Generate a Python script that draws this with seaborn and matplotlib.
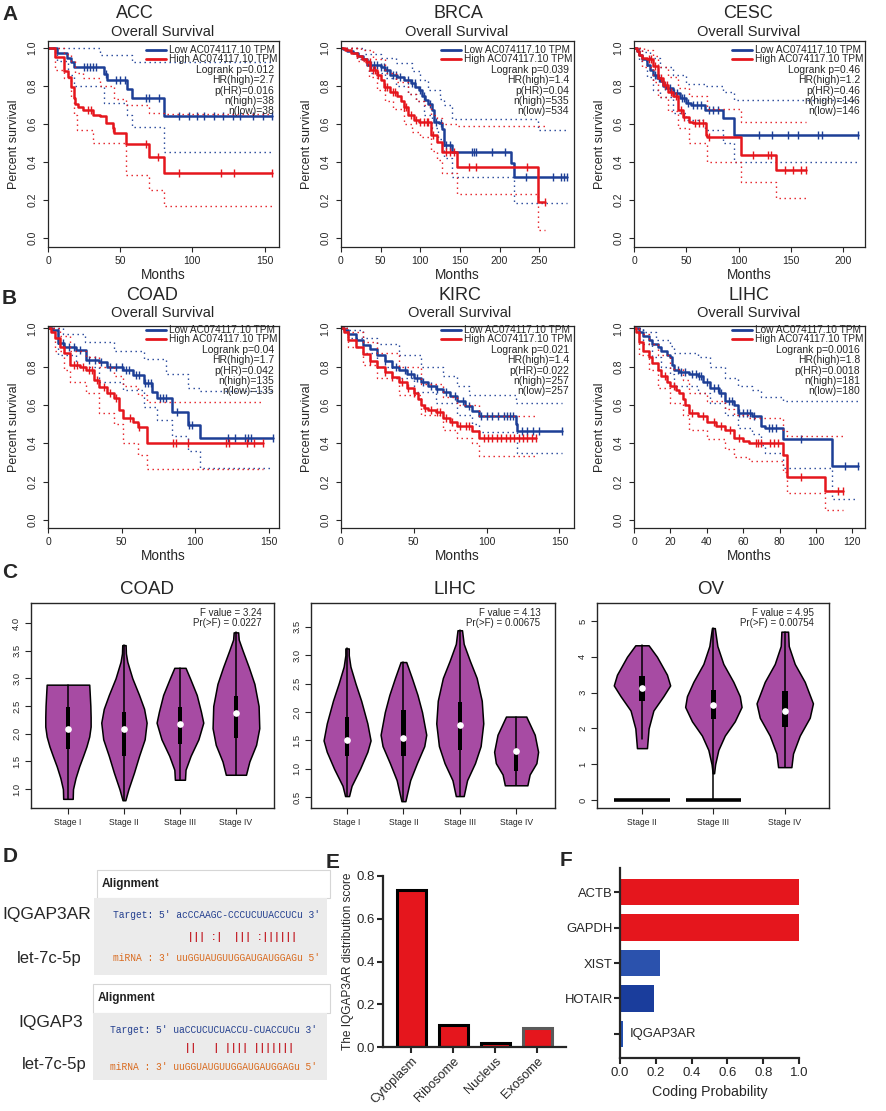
import numpy as np
import matplotlib
matplotlib.use('Agg')
import matplotlib.pyplot as plt
from matplotlib.patches import Rectangle
import seaborn as sns

sns.set_style('ticks')
plt.rcParams['font.family'] = ['Liberation Sans', 'DejaVu Sans']
plt.rcParams['axes.linewidth'] = 0.9

W, H = 886, 1111
BLUE = '#1d3f96'
RED = '#e5161d'
VIOLIN = '#a74ba3'

# ====================== DATA ======================
LEGEND_LABELS = ['Low AC074117.10 TPM', 'High AC074117.10 TPM']

# ---- ACC ----
ACC_LOW_STEPS = [(6, 0.975), (13, 0.95), (16, 0.925), (18, 0.898), (39, 0.865), (41, 0.833), (55, 0.785), (58, 0.736), (80, 0.643)]
ACC_LOW_END = 155
ACC_LOW_CENS = [25, 27, 29, 31, 33, 40, 47, 50, 53, 68, 70, 77, 91, 98, 103, 108, 115, 121, 128, 133, 142, 149, 155]
ACC_LOW_UP = [(0, 1.0), (36, 0.965), (58, 0.925)]
ACC_LOW_LO = [(0, 1.0), (6, 0.93), (14, 0.86), (18, 0.80), (39, 0.71), (55, 0.645), (58, 0.587), (80, 0.455)]
ACC_HIGH_STEPS = [(5, 0.953), (11, 0.877), (14, 0.847), (16, 0.794), (18, 0.736), (19, 0.704), (21, 0.69), (24, 0.674), (31, 0.648), (36, 0.64), (40, 0.604), (45, 0.577), (46, 0.555), (54, 0.493), (70, 0.428), (80, 0.34)]
ACC_HIGH_END = 155
ACC_HIGH_CENS = [28, 30, 45, 68, 76, 91, 120, 129, 155]
ACC_HIGH_UP = [(0, 1.0), (11, 0.97), (16, 0.93), (19, 0.87), (24, 0.84), (36, 0.80), (46, 0.73), (54, 0.70), (70, 0.66), (80, 0.655)]
ACC_HIGH_LO = [(0, 1.0), (5, 0.885), (11, 0.84), (16, 0.74), (18, 0.65), (20, 0.57), (31, 0.50), (54, 0.33), (70, 0.255), (80, 0.17)]
ACC_STATS = ['Logrank p=0.012', 'HR(high)=2.7', 'p(HR)=0.016', 'n(high)=38', 'n(low)=38']

# ---- BRCA ----
BRCA_LOW_STEPS = [(3, 0.995), (8, 0.985), (15, 0.975), (22, 0.96), (28, 0.94), (33, 0.912), (50, 0.90), (56, 0.885), (62, 0.86), (71, 0.85), (79, 0.833), (88, 0.815), (94, 0.795), (98, 0.78), (102, 0.745), (106, 0.725), (110, 0.705), (115, 0.674), (117, 0.613), (124, 0.604), (127, 0.575), (130, 0.489), (140, 0.454), (215, 0.393), (218, 0.322)]
BRCA_LOW_END = 285
BRCA_LOW_CENS = [38, 42, 46, 50, 54, 58, 66, 70, 75, 84, 90, 93, 100, 105, 112, 120, 126, 133, 137, 165, 168, 170, 190, 207, 233, 268, 278, 282, 285]
BRCA_LOW_UP = [(0, 1.0), (30, 0.97), (50, 0.95), (70, 0.92), (90, 0.88), (100, 0.83), (110, 0.78), (125, 0.73), (130, 0.70), (140, 0.625), (248, 0.57)]
BRCA_LOW_LO = [(0, 1.0), (20, 0.94), (35, 0.87), (55, 0.84), (70, 0.80), (85, 0.76), (95, 0.72), (105, 0.65), (115, 0.58), (122, 0.52), (130, 0.42), (140, 0.32), (218, 0.185)]
BRCA_HIGH_STEPS = [(5, 0.99), (12, 0.975), (20, 0.956), (27, 0.94), (31, 0.925), (37, 0.886), (45, 0.86), (50, 0.83), (54, 0.797), (62, 0.771), (71, 0.745), (76, 0.72), (79, 0.692), (85, 0.648), (92, 0.62), (98, 0.613), (113, 0.542), (121, 0.507), (128, 0.454), (146, 0.375), (248, 0.19)]
BRCA_HIGH_END = 258
BRCA_HIGH_CENS = [33, 36, 40, 43, 47, 55, 58, 65, 68, 80, 82, 88, 95, 100, 105, 108, 110, 116, 133, 137, 142, 162, 170, 235, 258]
BRCA_HIGH_UP = [(0, 1.0), (25, 0.99), (40, 0.94), (55, 0.87), (70, 0.82), (85, 0.76), (95, 0.72), (105, 0.70), (113, 0.65), (121, 0.63), (128, 0.60), (146, 0.59)]
BRCA_HIGH_LO = [(0, 1.0), (20, 0.93), (35, 0.85), (45, 0.78), (55, 0.72), (65, 0.68), (80, 0.60), (90, 0.56), (100, 0.53), (113, 0.46), (121, 0.41), (128, 0.34), (146, 0.234), (248, 0.045)]
BRCA_STATS = ['Logrank p=0.039', 'HR(high)=1.4', 'p(HR)=0.04', 'n(high)=535', 'n(low)=534']

# ---- CESC ----
CESC_LOW_STEPS = [(3, 0.985), (5, 0.965), (8, 0.94), (12, 0.912), (15, 0.885), (18, 0.86), (22, 0.84), (25, 0.824), (28, 0.80), (31, 0.789), (37, 0.762), (44, 0.736), (50, 0.71), (55, 0.70), (68, 0.674), (85, 0.63), (96, 0.542)]
CESC_LOW_END = 214
CESC_LOW_CENS = [20, 24, 30, 34, 38, 41, 46, 48, 52, 56, 60, 64, 72, 76, 80, 120, 132, 147, 157, 176, 180, 214]
CESC_LOW_UP = [(0, 1.0), (8, 0.98), (15, 0.95), (25, 0.90), (37, 0.86), (50, 0.81), (68, 0.80), (85, 0.77), (96, 0.725)]
CESC_LOW_LO = [(0, 1.0), (5, 0.93), (12, 0.85), (18, 0.78), (25, 0.74), (37, 0.66), (50, 0.62), (68, 0.57), (85, 0.50), (96, 0.40)]
CESC_HIGH_STEPS = [(3, 0.985), (5, 0.965), (8, 0.95), (12, 0.94), (18, 0.903), (23, 0.84), (28, 0.806), (33, 0.771), (37, 0.745), (42, 0.674), (47, 0.639), (53, 0.613), (56, 0.604), (69, 0.542), (70, 0.533), (102, 0.437), (136, 0.357)]
CESC_HIGH_END = 165
CESC_HIGH_CENS = [14, 16, 20, 26, 30, 32, 35, 40, 45, 48, 58, 62, 66, 72, 114, 128, 131, 144, 152, 160, 165]
CESC_HIGH_UP = [(0, 1.0), (10, 0.99), (18, 0.96), (23, 0.90), (33, 0.85), (42, 0.79), (53, 0.75), (70, 0.68), (102, 0.61)]
CESC_HIGH_LO = [(0, 1.0), (8, 0.90), (18, 0.82), (23, 0.74), (33, 0.67), (42, 0.58), (53, 0.50), (70, 0.40), (102, 0.295), (136, 0.21)]
CESC_STATS = ['Logrank p=0.46', 'HR(high)=1.2', 'p(HR)=0.46', 'n(high)=146', 'n(low)=146']

# ---- COAD ----
COAD_LOW_STEPS = [(3, 0.99), (7, 0.922), (11, 0.904), (19, 0.887), (26, 0.835), (35, 0.826), (40, 0.80), (51, 0.783), (58, 0.757), (65, 0.713), (71, 0.67), (74, 0.635), (84, 0.565), (95, 0.496), (103, 0.426)]
COAD_LOW_END = 153
COAD_LOW_CENS = [10, 14, 18, 22, 28, 32, 36, 42, 46, 50, 53, 55, 60, 62, 66, 68, 70, 76, 78, 80, 88, 96, 98, 122, 127, 134, 136, 138, 153]
COAD_LOW_UP = [(0, 1.0), (10, 0.97), (25, 0.93), (45, 0.88), (65, 0.84), (80, 0.76), (95, 0.69), (103, 0.675)]
COAD_LOW_LO = [(0, 1.0), (7, 0.86), (19, 0.80), (35, 0.72), (51, 0.68), (65, 0.59), (74, 0.52), (84, 0.44), (95, 0.36), (103, 0.27)]
COAD_HIGH_STEPS = [(2, 0.98), (5, 0.95), (8, 0.904), (11, 0.87), (15, 0.809), (22, 0.80), (26, 0.783), (31, 0.73), (35, 0.696), (40, 0.66), (45, 0.635), (48, 0.574), (51, 0.53), (58, 0.513), (61, 0.487), (67, 0.40)]
COAD_HIGH_END = 146
COAD_HIGH_CENS = [18, 20, 24, 28, 30, 33, 38, 42, 46, 56, 62, 85, 87, 95, 121, 123, 135, 140, 146]
COAD_HIGH_UP = [(0, 1.0), (8, 0.96), (15, 0.88), (26, 0.85), (35, 0.80), (45, 0.75), (51, 0.70), (61, 0.65), (67, 0.615)]
COAD_HIGH_LO = [(0, 1.0), (5, 0.88), (11, 0.78), (15, 0.72), (26, 0.66), (35, 0.56), (45, 0.50), (51, 0.40), (61, 0.34), (67, 0.265)]
COAD_STATS = ['Logrank p=0.04', 'HR(high)=1.7', 'p(HR)=0.042', 'n(high)=135', 'n(low)=135']

# ---- KIRC ----
KIRC_LOW_STEPS = [(2, 0.99), (5, 0.97), (10, 0.94), (15, 0.915), (20, 0.89), (25, 0.86), (30, 0.83), (35, 0.80), (40, 0.78), (45, 0.76), (50, 0.74), (55, 0.72), (60, 0.70), (65, 0.685), (70, 0.67), (75, 0.645), (80, 0.62), (85, 0.595), (90, 0.57), (95, 0.545), (120, 0.50), (121, 0.465)]
KIRC_LOW_END = 152
KIRC_LOW_CENS = [30, 38, 44, 48, 52, 56, 62, 66, 72, 78, 84, 88, 96, 100, 104, 108, 112, 114, 116, 118, 124, 128, 132, 136, 152]
KIRC_LOW_UP = [(0, 1.0), (5, 0.99), (15, 0.95), (25, 0.92), (40, 0.86), (55, 0.80), (70, 0.75), (80, 0.70), (88, 0.65), (120, 0.61)]
KIRC_LOW_LO = [(0, 1.0), (5, 0.95), (15, 0.87), (25, 0.80), (35, 0.74), (50, 0.67), (65, 0.61), (80, 0.55), (90, 0.50), (95, 0.46), (121, 0.35)]
KIRC_HIGH_STEPS = [(2, 0.98), (5, 0.94), (10, 0.90), (15, 0.865), (20, 0.83), (25, 0.80), (30, 0.77), (35, 0.745), (40, 0.72), (45, 0.69), (50, 0.66), (53, 0.63), (55, 0.60), (57, 0.583), (60, 0.575), (65, 0.565), (70, 0.53), (75, 0.51), (80, 0.49), (90, 0.465), (95, 0.425)]
KIRC_HIGH_END = 134
KIRC_HIGH_CENS = [20, 30, 35, 42, 46, 50, 58, 62, 66, 68, 72, 76, 82, 86, 88, 98, 101, 104, 107, 110, 113, 116, 119, 122, 125, 128, 131, 134]
KIRC_HIGH_UP = [(0, 1.0), (5, 0.98), (15, 0.93), (25, 0.87), (40, 0.80), (55, 0.71), (70, 0.64), (80, 0.60), (95, 0.545)]
KIRC_HIGH_LO = [(0, 1.0), (5, 0.90), (15, 0.81), (25, 0.74), (40, 0.65), (55, 0.55), (70, 0.47), (80, 0.43), (90, 0.40), (95, 0.335)]
KIRC_STATS = ['Logrank p=0.021', 'HR(high)=1.4', 'p(HR)=0.022', 'n(high)=257', 'n(low)=257']

# ---- LIHC ----
LIHC_LOW_STEPS = [(3, 0.98), (5, 0.96), (8, 0.94), (10, 0.92), (13, 0.90), (15, 0.88), (18, 0.86), (20, 0.85), (21, 0.81), (22, 0.78), (25, 0.77), (30, 0.76), (35, 0.75), (38, 0.72), (42, 0.69), (47, 0.665), (50, 0.62), (55, 0.60), (57, 0.56), (65, 0.545), (70, 0.49), (72, 0.48), (82, 0.42), (109, 0.28)]
LIHC_LOW_END = 123
LIHC_LOW_CENS = [24, 26, 28, 32, 34, 36, 37, 40, 44, 46, 48, 52, 54, 58, 60, 62, 64, 66, 74, 76, 78, 92, 116, 123]
LIHC_LOW_UP = [(0, 1.0), (5, 0.98), (12, 0.94), (20, 0.91), (22, 0.87), (35, 0.85), (42, 0.80), (50, 0.74), (57, 0.70), (65, 0.68), (70, 0.64), (82, 0.62)]
LIHC_LOW_LO = [(0, 1.0), (5, 0.92), (10, 0.85), (15, 0.80), (20, 0.76), (22, 0.70), (35, 0.66), (42, 0.61), (50, 0.55), (57, 0.48), (65, 0.45), (70, 0.39), (72, 0.35), (82, 0.27), (109, 0.11)]
LIHC_HIGH_STEPS = [(1, 0.98), (3, 0.93), (5, 0.88), (8, 0.85), (10, 0.82), (13, 0.78), (15, 0.75), (18, 0.72), (20, 0.70), (23, 0.68), (25, 0.66), (27, 0.63), (28, 0.60), (30, 0.56), (35, 0.54), (40, 0.51), (45, 0.49), (50, 0.47), (55, 0.43), (60, 0.41), (63, 0.40), (82, 0.34), (84, 0.225), (105, 0.15)]
LIHC_HIGH_END = 115
LIHC_HIGH_CENS = [17, 22, 32, 38, 44, 48, 53, 58, 67, 68, 70, 75, 77, 79, 92, 112, 115]
LIHC_HIGH_UP = [(0, 1.0), (3, 0.97), (8, 0.92), (13, 0.86), (20, 0.79), (27, 0.73), (30, 0.66), (40, 0.62), (50, 0.58), (55, 0.55), (63, 0.53), (82, 0.465), (84, 0.44)]
LIHC_HIGH_LO = [(0, 1.0), (3, 0.86), (8, 0.78), (13, 0.69), (20, 0.61), (27, 0.55), (30, 0.47), (40, 0.42), (50, 0.37), (55, 0.33), (63, 0.31), (82, 0.25), (84, 0.14), (105, 0.05)]
LIHC_STATS = ['Logrank p=0.0016', 'HR(high)=1.8', 'p(HR)=0.0018', 'n(high)=181', 'n(low)=180']

# ---- C: violin profiles (value, half width), box (q1, q3), median, whisker (min, max)
COAD_STAGES = ['Stage I', 'Stage II', 'Stage III', 'Stage IV']
COAD_PROFILES = [
    [(0.825, 0.085), (1.0, 0.09), (1.2, 0.135), (1.41, 0.2), (1.6, 0.27), (1.77, 0.33), (1.95, 0.38), (2.13, 0.405), (2.3, 0.405), (2.5, 0.40), (2.7, 0.39), (2.886, 0.38)],
    [(0.8, 0.025), (1.0, 0.08), (1.3, 0.18), (1.6, 0.27), (1.9, 0.37), (2.2, 0.405), (2.45, 0.36), (2.7, 0.27), (3.0, 0.15), (3.3, 0.06), (3.45, 0.035), (3.6, 0.03)],
    [(1.17, 0.09), (1.35, 0.1), (1.6, 0.19), (1.9, 0.33), (2.2, 0.417), (2.4, 0.375), (2.7, 0.3), (3.0, 0.18), (3.19, 0.1)],
    [(1.26, 0.18), (1.5, 0.24), (1.8, 0.36), (2.1, 0.417), (2.5, 0.405), (2.9, 0.33), (3.2, 0.23), (3.5, 0.12), (3.7, 0.05), (3.83, 0.04)],
]
COAD_BOX = [(1.73, 2.48), (1.6, 2.4), (1.81, 2.49), (1.92, 2.69)]
COAD_MED = [2.08, 2.08, 2.17, 2.37]
COAD_WHISK = [(0.825, 2.886), (0.8, 3.6), (1.17, 3.19), (1.26, 3.83)]
COAD_FTEXT = ['F value = 3.24', 'Pr(>F) = 0.0227']

LIHC_STAGES = ['Stage I', 'Stage II', 'Stage III', 'Stage IV']
LIHC_PROFILES = [
    [(0.52, 0.035), (0.7, 0.08), (1.0, 0.23), (1.3, 0.36), (1.5, 0.417), (1.8, 0.36), (2.2, 0.25), (2.5, 0.15), (2.8, 0.06), (3.0, 0.03), (3.12, 0.03)],
    [(0.43, 0.035), (0.8, 0.12), (1.1, 0.24), (1.4, 0.37), (1.6, 0.405), (2.0, 0.33), (2.3, 0.25), (2.6, 0.15), (2.88, 0.05)],
    [(0.52, 0.07), (0.8, 0.13), (1.1, 0.27), (1.4, 0.37), (1.8, 0.417), (2.2, 0.39), (2.6, 0.3), (2.9, 0.18), (3.2, 0.07), (3.44, 0.04)],
    [(0.71, 0.2), (0.9, 0.24), (1.1, 0.36), (1.3, 0.39), (1.6, 0.33), (1.92, 0.18)],
]
LIHC_BOX = [(1.22, 1.91), (1.23, 2.04), (1.33, 2.17), (0.96, 1.28)]
LIHC_MED = [1.51, 1.55, 1.77, 1.31]
LIHC_WHISK = [(0.52, 3.12), (0.43, 2.88), (0.52, 3.44), (0.71, 1.92)]
LIHC_FTEXT = ['F value = 4.13', 'Pr(>F) = 0.00675']

OV_STAGES = ['Stage II', 'Stage III', 'Stage IV']
OV_PROFILES = [
    [(1.45, 0.07), (2.0, 0.093), (2.5, 0.16), (2.9, 0.3), (3.2, 0.395), (3.5, 0.35), (4.0, 0.21), (4.32, 0.093)],
    [(0.75, 0.01), (1.0, 0.025), (1.4, 0.07), (1.8, 0.16), (2.2, 0.3), (2.6, 0.395), (2.9, 0.37), (3.3, 0.28), (3.8, 0.14), (4.3, 0.056), (4.8, 0.02)],
    [(0.92, 0.093), (1.3, 0.116), (1.8, 0.21), (2.3, 0.35), (2.7, 0.395), (3.3, 0.28), (3.8, 0.14), (4.3, 0.056), (4.7, 0.047)],
]
OV_BOX = [(2.77, 3.45), (2.27, 3.06), (2.05, 3.05)]
OV_MED = [3.14, 2.66, 2.5]
OV_WHISK = [(1.7, 4.32), (0.0, 4.8), (0.92, 4.7)]
OV_ZERO_GROUPS = ['Stage II', 'Stage III']
OV_FTEXT = ['F value = 4.95', 'Pr(>F) = 0.00754']

# ---- D: alignments ----
D_PAIRS = [('IQGAP3AR', 'let-7c-5p'), ('IQGAP3', 'let-7c-5p')]
D_TARGETS = ["Target: 5' acCCAAGC-CCCUCUUACCUCu 3'", "Target: 5' uaCCUCUCUACCU-CUACCUCu 3'"]
D_MATCHES = ["             ||| :|  ||| :||||||", "             ||   | |||| |||||||"]
D_MIRNAS = ["miRNA : 3' uuGGUAUGUUGGAUGAUGGAGu 5'", "miRNA : 3' uuGGUAUGUUGGAUGAUGGAGu 5'"]

# ---- E ----
E_CATS = ['Cytoplasm', 'Ribosome', 'Nucleus', 'Exosome']
E_VALS = [0.734, 0.103, 0.019, 0.089]

# ---- F ----
F_GENES = ['ACTB', 'GAPDH', 'XIST', 'HOTAIR', 'IQGAP3AR']
F_VALS = [1.0, 1.0, 0.223, 0.19, 0.019]
F_COLORS = ['#e5161d', '#e5161d', '#2b52ad', '#1a3d9c', '#2250b0']

# ====================== FIGURE ======================
fig = plt.figure(figsize=(W / 100, H / 100), dpi=100)
ov = fig.add_axes([0, 0, 1, 1])
ov.set_xlim(0, W)
ov.set_ylim(H, 0)
ov.axis('off')


def prect(x0, y0, x1, y1):
    return [x0 / W, 1 - y1 / H, (x1 - x0) / W, (y1 - y0) / H]


def step_xy(steps, end):
    t = [0.0] + [p[0] for p in steps] + [end]
    s = [1.0] + [p[1] for p in steps] + [steps[-1][1]]
    return np.array(t, float), np.array(s, float)


def ci_xy(pts, end):
    t = [p[0] for p in pts] + [end]
    s = [p[1] for p in pts] + [pts[-1][1]]
    return t, s


def draw_km(ax, steps, end, cens, up, lo, color):
    for pts in (up, lo):
        t, s = ci_xy(pts, end)
        sns.lineplot(x=t, y=s, ax=ax, color=color, lw=1.0, linestyle=(0, (1, 2.6)),
                     drawstyle='steps-post', estimator=None, errorbar=None, sort=False)
    t, s = step_xy(steps, end)
    sns.lineplot(x=t, y=s, ax=ax, color=color, lw=1.8, drawstyle='steps-post',
                 estimator=None, errorbar=None, sort=False)
    c = np.array(cens, float)
    idx = np.searchsorted(t, c, side='right') - 1
    ax.plot(c, s[idx], ls='none', marker='|', ms=6, mew=1.0, color=color)


KM = [
    ('ACC', (48, 41, 279, 247), (0, 160), [0, 50, 100, 150], (-0.047, 1.037), 9,
     (ACC_LOW_STEPS, ACC_LOW_END, ACC_LOW_CENS, ACC_LOW_UP, ACC_LOW_LO),
     (ACC_HIGH_STEPS, ACC_HIGH_END, ACC_HIGH_CENS, ACC_HIGH_UP, ACC_HIGH_LO), ACC_STATS, (135, 13), (163, 32)),
    ('BRCA', (341, 41, 574, 247), (0, 294), [0, 50, 100, 150, 200, 250], (-0.047, 1.037), 9,
     (BRCA_LOW_STEPS, BRCA_LOW_END, BRCA_LOW_CENS, BRCA_LOW_UP, BRCA_LOW_LO),
     (BRCA_HIGH_STEPS, BRCA_HIGH_END, BRCA_HIGH_CENS, BRCA_HIGH_UP, BRCA_HIGH_LO), BRCA_STATS, (458, 13), (457, 32)),
    ('CESC', (634, 41, 865, 247), (0, 221), [0, 50, 100, 150, 200], (-0.047, 1.037), 9,
     (CESC_LOW_STEPS, CESC_LOW_END, CESC_LOW_CENS, CESC_LOW_UP, CESC_LOW_LO),
     (CESC_HIGH_STEPS, CESC_HIGH_END, CESC_HIGH_CENS, CESC_HIGH_UP, CESC_HIGH_LO), CESC_STATS, (748, 13), (749, 32)),
    ('COAD', (48, 326, 279, 528), (0, 157), [0, 50, 100, 150], (-0.042, 1.012), 4,
     (COAD_LOW_STEPS, COAD_LOW_END, COAD_LOW_CENS, COAD_LOW_UP, COAD_LOW_LO),
     (COAD_HIGH_STEPS, COAD_HIGH_END, COAD_HIGH_CENS, COAD_HIGH_UP, COAD_HIGH_LO), COAD_STATS, (152, 295), (163, 313)),
    ('KIRC', (341, 326, 574, 528), (0, 160), [0, 50, 100, 150], (-0.042, 1.012), 4,
     (KIRC_LOW_STEPS, KIRC_LOW_END, KIRC_LOW_CENS, KIRC_LOW_UP, KIRC_LOW_LO),
     (KIRC_HIGH_STEPS, KIRC_HIGH_END, KIRC_HIGH_CENS, KIRC_HIGH_UP, KIRC_HIGH_LO), KIRC_STATS, (460, 295), (460, 313)),
    ('LIHC', (634, 326, 865, 528), (0, 127), [0, 20, 40, 60, 80, 100, 120], (-0.042, 1.012), 4,
     (LIHC_LOW_STEPS, LIHC_LOW_END, LIHC_LOW_CENS, LIHC_LOW_UP, LIHC_LOW_LO),
     (LIHC_HIGH_STEPS, LIHC_HIGH_END, LIHC_HIGH_CENS, LIHC_HIGH_UP, LIHC_HIGH_LO), LIHC_STATS, (749, 295), (749, 313)),
]

for name, r, xl, xt, yl, toff, low, high, stats, tpos, spos in KM:
    ax = fig.add_axes(prect(*r))
    wpx, hpx = r[2] - r[0], r[3] - r[1]
    draw_km(ax, *low, BLUE)
    draw_km(ax, *high, RED)
    ax.set_xlim(*xl)
    ax.set_ylim(*yl)
    ax.set_xticks(xt)
    ax.set_xticklabels([str(v) for v in xt])
    yt = [0.0, 0.2, 0.4, 0.6, 0.8, 1.0]
    ax.set_yticks(yt)
    ax.set_yticklabels([f'{v:.1f}' for v in yt], rotation=90, va='center')
    ax.tick_params(axis='both', labelsize=7.5, length=3.6, width=0.8, direction='out')
    ax.tick_params(axis='x', pad=3.0)
    ax.tick_params(axis='y', pad=4.2)
    for sp in ax.spines.values():
        sp.set_visible(True)
        sp.set_linewidth(0.9)
    ax.set_xlabel('Months', fontsize=9.8, labelpad=1.2)
    ax.set_ylabel('Percent survival', fontsize=9.0, labelpad=5.5)
    # legend + stats
    xr = 1 - 5 / wpx
    xtx = 1 - 110 / wpx
    for i, (lab, col) in enumerate(zip(LEGEND_LABELS, [BLUE, RED])):
        yy = 1 - (toff + i * 9.3) / hpx
        ax.plot([xtx - 23 / wpx, xtx - 3 / wpx], [yy, yy], transform=ax.transAxes, color=col, lw=2.0)
        ax.text(xtx, yy, lab, transform=ax.transAxes, fontsize=7.3, va='center', ha='left')
    for k, s in enumerate(stats):
        ax.text(xr, 1 - (toff + 19.8 + 10.4 * k) / hpx, s, transform=ax.transAxes,
                fontsize=7.5, va='center', ha='right')
    ov.text(tpos[0], tpos[1], name, fontsize=13, ha='center', va='center')
    ov.text(spos[0], spos[1], 'Overall Survival', fontsize=10.5, ha='center', va='center')


# ---------------- C: violins ----------------
def draw_violins(ax, profiles, boxes, meds, whisks):
    for i, prof in enumerate(profiles):
        ys = np.array([p[0] for p in prof])
        hw = np.array([p[1] for p in prof])
        ax.fill_betweenx(ys, i - hw, i + hw, facecolor=VIOLIN, edgecolor='black', lw=1.1, zorder=2)
        ax.plot([i, i], whisks[i], color='black', lw=1.1, zorder=3)
        q1, q3 = boxes[i]
        ax.add_patch(Rectangle((i - 0.04, q1), 0.08, q3 - q1, facecolor='black', edgecolor='none', zorder=4))
        ax.plot([i], [meds[i]], 'o', color='white', ms=4.8, mec='none', zorder=5)


VIO = [
    ('COAD', (31, 603, 274, 808), COAD_STAGES, COAD_PROFILES, COAD_BOX, COAD_MED, COAD_WHISK, COAD_FTEXT,
     (-0.66, 3.68), (0.66, 4.36), [1.0, 1.5, 2.0, 2.5, 3.0, 3.5, 4.0], '{:.1f}', (147, 590), 0.95),
    ('LIHC', (311, 603, 555, 808), LIHC_STAGES, LIHC_PROFILES, LIHC_BOX, LIHC_MED, LIHC_WHISK, LIHC_FTEXT,
     (-0.64, 3.69), (0.31, 3.92), [0.5, 1.0, 1.5, 2.0, 2.5, 3.0, 3.5], '{:.1f}', (455, 590), 0.94),
    ('OV', (597, 603, 829, 808), OV_STAGES, OV_PROFILES, OV_BOX, OV_MED, OV_WHISK, OV_FTEXT,
     (-0.63, 2.62), (-0.22, 5.5), [0, 1, 2, 3, 4, 5], '{:d}', (711, 590), 0.935),
]
for name, r, stages, profs, boxes, meds, whisks, ftext, xl, yl, yt, fmt, tpos, txr in VIO:
    ax = fig.add_axes(prect(*r))
    draw_violins(ax, profs, boxes, meds, whisks)
    if name == 'OV':
        for g in OV_ZERO_GROUPS:
            i = stages.index(g)
            ax.plot([i - 0.39, i + 0.39], [0, 0], color='black', lw=2.6, solid_capstyle='butt', zorder=3)
    ax.set_xlim(*xl)
    ax.set_ylim(*yl)
    ax.set_xticks(range(len(stages)))
    ax.set_xticklabels(stages, fontsize=6.2)
    ax.set_yticks(yt)
    ax.set_yticklabels([fmt.format(v) for v in yt], rotation=90, va='center', fontsize=6.8)
    ax.tick_params(axis='both', length=4, width=0.8, direction='out')
    ax.tick_params(axis='x', pad=3.2)
    ax.tick_params(axis='y', pad=3)
    for sp in ax.spines.values():
        sp.set_visible(True)
        sp.set_linewidth(1.0)
    hpx = r[3] - r[1]
    ax.text(txr, 1 - 10 / hpx, ftext[0], transform=ax.transAxes, fontsize=7, ha='right', va='center')
    ax.text(txr, 1 - 20.5 / hpx, ftext[1], transform=ax.transAxes, fontsize=7, ha='right', va='center')
    ov.text(tpos[0], tpos[1], name, fontsize=13.5, ha='center', va='center')

# ---------------- D: alignments (drawn in pixel overlay) ----------------
hdr = [(97, 870, 28), (93, 984, 29)]
body = [(94, 898, 77), (93, 1013, 67)]
seq_x = [113, 110]
seq_y = [(915, 937, 958), (1030, 1048, 1067)]
lab_pos = [((2, 915), (17, 958)), ((18, 1023), (22, 1065))]
for j in range(2):
    hx, hy, hh = hdr[j]
    ov.add_patch(Rectangle((hx, hy), 330 - hx, hh, facecolor='white', edgecolor='#d6d6d6', lw=0.8))
    bx, by, bh = body[j]
    ov.add_patch(Rectangle((bx, by), 327 - bx, bh, facecolor='#ebebeb', edgecolor='none'))
    ov.text(hx + 5, hy + hh / 2, 'Alignment', fontsize=8.5, fontweight='bold', ha='left', va='center', color='#222222')
    ty, my, ry = seq_y[j]
    ov.text(seq_x[j], ty, D_TARGETS[j], family='Liberation Mono', fontsize=6.9, color='#233f8f', va='center')
    ov.text(seq_x[j], my, D_MATCHES[j], family='Liberation Mono', fontsize=6.9, color='#c4262e',
            va='center', fontweight='bold')
    ov.text(seq_x[j], ry, D_MIRNAS[j], family='Liberation Mono', fontsize=6.9, color='#d96a1e', va='center')
    (p1, p2) = lab_pos[j]
    ov.text(p1[0], p1[1], D_PAIRS[j][0], fontsize=12.5, ha='left', va='center')
    ov.text(p2[0], p2[1], D_PAIRS[j][1], fontsize=12, ha='left', va='center')

# ---------------- E ----------------
axE = fig.add_axes(prect(383, 876, 566, 1047))
sns.barplot(x=E_CATS, y=E_VALS, ax=axE, color=RED, width=0.69, edgecolor='black', linewidth=2.2, saturation=1)
axE.patches[3].set_edgecolor('#5a5a5a')
axE.set_xlim(-0.67, 3.69)
axE.set_ylim(0, 0.8)
axE.set_yticks([0, 0.2, 0.4, 0.6, 0.8])
axE.set_yticklabels(['0.0', '0.2', '0.4', '0.6', '0.8'], fontsize=9.5)
axE.set_xticks(range(len(E_CATS)))
axE.set_xticklabels(E_CATS, rotation=45, ha='right', rotation_mode='anchor', fontsize=9.2)
sns.despine(ax=axE)
for sp in ('left', 'bottom'):
    axE.spines[sp].set_linewidth(1.6)
axE.tick_params(axis='both', length=4, width=1.5, direction='out')
axE.tick_params(axis='y', pad=1.5)
axE.tick_params(axis='x', pad=2)
axE.set_ylabel('The IQGAP3AR distribution score', fontsize=8.6, labelpad=2)
axE.set_xlabel('')

# ---------------- F ----------------
axF = fig.add_axes(prect(620, 868, 799, 1058))
sns.barplot(x=F_VALS, y=F_GENES, hue=F_GENES, palette=F_COLORS, legend=False, orient='h',
            width=0.75, ax=axF, saturation=1, edgecolor='none')
axF.set_xlim(0, 1.0)
axF.set_ylim(4.68, -0.68)
axF.set_xticks([0, 0.2, 0.4, 0.6, 0.8, 1.0])
axF.set_xticklabels(['0.0', '0.2', '0.4', '0.6', '0.8', '1.0'], fontsize=9.5)
axF.set_yticks(range(len(F_GENES)))
axF.set_yticklabels(F_GENES[:-1] + [''], fontsize=9.4)
axF.text(F_VALS[-1] + 0.035, len(F_GENES) - 1, F_GENES[-1], fontsize=9.4, va='center', ha='left')
sns.despine(ax=axF)
for sp in ('left', 'bottom'):
    axF.spines[sp].set_linewidth(1.6)
axF.tick_params(axis='both', length=4, width=1.5, direction='out')
axF.tick_params(axis='y', pad=1)
axF.tick_params(axis='x', pad=2.5)
axF.set_xlabel('Coding Probability', fontsize=10.2, labelpad=4)
axF.set_ylabel('')

# ---------------- panel letters ----------------
for let, (x, y) in zip('ABCDEF', [(2, 14), (2, 298), (2, 573), (3, 856), (326, 862), (560, 860)]):
    ov.text(x, y, let, fontsize=15, fontweight='bold', ha='left', va='center')

fig.savefig('out.png', dpi=100)
